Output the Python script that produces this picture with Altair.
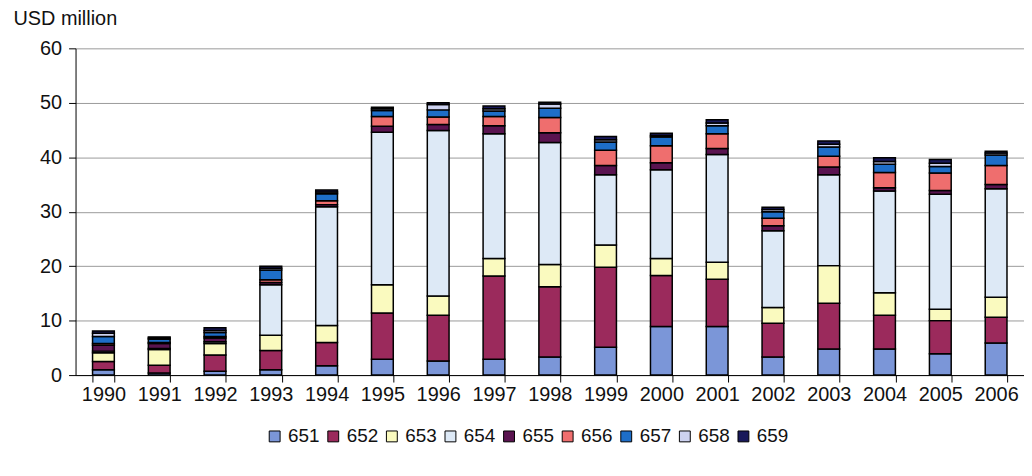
import altair as alt
import pandas as pd

years = [str(y) for y in range(1990, 2007)]
series = ["651", "652", "653", "654", "655", "656", "657", "658", "659"]
colors = ["#7b96d8", "#9b2a5c", "#fafabf", "#dde9f6", "#5a1450",
          "#ef6e6e", "#1e6ec8", "#cdd2f0", "#19195a"]

s651 = [1.0, 0.4, 0.7, 1.0, 1.7, 2.9, 2.6, 2.9, 3.3, 5.1, 8.9, 8.9, 3.3, 4.8, 4.8, 3.9, 5.9]
s652 = [1.5, 1.4, 3.0, 3.5, 4.3, 8.5, 8.4, 15.3, 12.9, 14.7, 9.4, 8.7, 6.2, 8.4, 6.2, 6.1, 4.7]
s653 = [1.6, 2.9, 2.1, 2.8, 3.1, 5.2, 3.5, 3.2, 4.1, 4.1, 3.1, 3.1, 2.9, 6.9, 4.1, 2.1, 3.7]
s654 = [0.3, 0.2, 0.3, 9.3, 21.8, 28.0, 30.4, 22.9, 22.4, 12.9, 16.3, 19.8, 14.1, 16.7, 18.7, 21.1, 19.9]
s655 = [1.1, 0.9, 0.7, 0.4, 0.4, 1.1, 1.1, 1.5, 1.8, 1.7, 1.3, 1.1, 0.9, 1.4, 0.6, 0.7, 0.8]
s656 = [0.3, 0.2, 0.3, 0.5, 0.7, 1.8, 1.4, 1.7, 2.8, 2.8, 3.1, 2.7, 1.4, 2.0, 2.8, 3.2, 3.5]
s657 = [1.3, 0.6, 0.7, 1.8, 1.3, 1.1, 1.3, 1.0, 1.7, 1.5, 1.6, 1.5, 1.2, 1.7, 1.5, 1.2, 1.9]
s658 = [0.6, 0.2, 0.4, 0.3, 0.3, 0.3, 1.0, 0.4, 0.8, 0.4, 0.3, 0.5, 0.4, 0.5, 0.5, 0.6, 0.4]
s659 = [0.4, 0.2, 0.5, 0.4, 0.4, 0.3, 0.3, 0.5, 0.3, 0.6, 0.4, 0.6, 0.4, 0.6, 0.7, 0.7, 0.3]

values = [s651, s652, s653, s654, s655, s656, s657, s658, s659]

rows = []
for i, (name, vals) in enumerate(zip(series, values)):
    for y, v in zip(years, vals):
        rows.append({"year": y, "series": name, "value": v, "idx": i})
df = pd.DataFrame(rows)

FONT = "Liberation Sans"

chart = alt.Chart(df).mark_bar(stroke="black", strokeWidth=1.5).encode(
    x=alt.X("year:N", sort=years,
            scale=alt.Scale(paddingInner=0.61, paddingOuter=0.305),
            axis=alt.Axis(title=None, labelAngle=0, tickBand="extent",
                          tickSize=7, tickColor="black", domainColor="black",
                          labelPadding=3, labelFontSize=20, labelColor="#111111",
                          labelFont=FONT, grid=False)),
    y=alt.Y("value:Q", stack="zero",
            scale=alt.Scale(domain=[0, 60], nice=False),
            axis=alt.Axis(values=[0, 10, 20, 30, 40, 50, 60], tickSize=7,
                          tickColor="black", domainColor="black",
                          labelPadding=7, labelFontSize=20, labelColor="#111111",
                          labelFont=FONT, gridColor="#9a9a9a", gridWidth=1,
                          title="USD million", titleAngle=0, titleAlign="left",
                          titleBaseline="middle", titleX=-63, titleY=-30,
                          titleFontWeight="normal", titleFontSize=20,
                          titleFont=FONT, titleColor="#111111")),
    color=alt.Color("series:N", sort=series,
                    scale=alt.Scale(domain=series, range=colors),
                    legend=alt.Legend(orient="none", legendX=191, legendY=381,
                                      direction="horizontal", title=None,
                                      symbolType="square", symbolSize=120,
                                      symbolStrokeColor="black",
                                      symbolStrokeWidth=1,
                                      labelFontSize=19, labelFont=FONT,
                                      labelColor="#111111", labelOffset=4,
                                      columnPadding=4, padding=0)),
    order=alt.Order("idx:Q", sort="ascending"),
).properties(
    width=955, height=329,
    autosize=alt.AutoSizeParams(type="none"),
    padding={"left": 68, "top": 39, "right": 0, "bottom": 100},
    background="white",
).configure_view(stroke=None)

chart.save("out.html", embed_options={"renderer": "svg", "actions": False})
